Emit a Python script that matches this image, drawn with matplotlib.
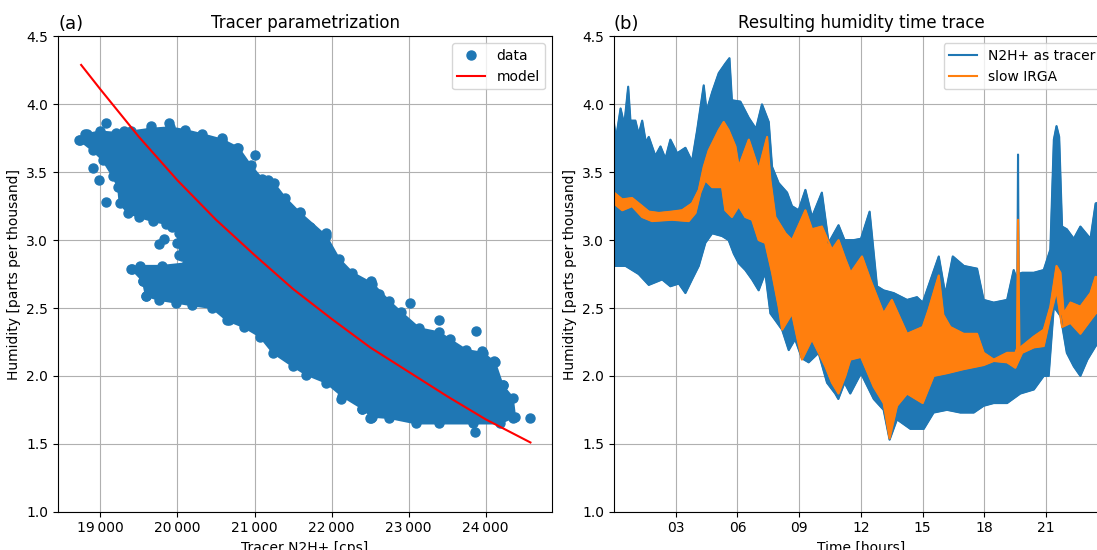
import matplotlib
matplotlib.use("Agg")
import matplotlib.pyplot as plt
import matplotlib.ticker as mticker
import numpy as np

# ---- panel (a): scatter cloud outline (cps, humidity)
cloud_x = [18720, 18820, 18990, 19200, 19400, 19650, 19900, 20100, 20320, 20580,
           20790, 20950, 21100, 21250, 21400, 21590, 21930, 22100, 22270, 22530,
           22750, 22900, 23140, 23400, 23530, 23750, 23960, 24120, 24220, 24350,
           24380, 24180, 23830, 23400, 23100, 22750, 22520, 22400, 22140, 21930,
           21670, 21500, 21240, 21070, 20860, 20640, 20450, 20190, 19980, 19760,
           19590, 19550, 19400, 19510, 19800, 20130, 20060, 20000, 20020, 19930,
           19850, 19680, 19500, 19360, 19250, 19230, 19160, 19030, 18900]
cloud_y = [3.74, 3.78, 3.80, 3.79, 3.80, 3.82, 3.83, 3.81, 3.78, 3.74,
           3.68, 3.55, 3.45, 3.42, 3.31, 3.20, 3.03, 2.86, 2.76, 2.68,
           2.55, 2.47, 2.35, 2.32, 2.27, 2.19, 2.17, 2.10, 1.93, 1.84,
           1.70, 1.65, 1.65, 1.65, 1.65, 1.69, 1.70, 1.76, 1.85, 1.95,
           2.01, 2.07, 2.17, 2.29, 2.36, 2.41, 2.50, 2.52, 2.54, 2.56,
           2.59, 2.70, 2.79, 2.81, 2.81, 2.83, 2.88, 2.98, 3.05, 3.10,
           3.12, 3.14, 3.17, 3.20, 3.27, 3.39, 3.47, 3.59, 3.66]

# isolated points around the cloud
pts_x = [18740, 18800, 19077, 19657, 19893, 18906, 18983, 19069, 21009, 20773,
         19764, 19828, 20021, 19412, 19549, 19592, 20579, 21180, 21927, 21585,
         21714, 22611, 22517, 20667, 22120, 22397, 22504, 23013, 23390, 23870,
         23957, 24104, 24571, 23857, 22515, 22407, 24074, 24355, 24225, 19300]
pts_y = [3.74, 3.78, 3.86, 3.84, 3.86, 3.53, 3.44, 3.28, 3.63, 3.68,
         2.97, 3.01, 2.89, 2.79, 2.70, 2.59, 3.75, 3.44, 3.05, 3.21,
         3.10, 2.60, 2.70, 2.41, 1.83, 1.76, 1.69, 2.54, 2.41, 2.33,
         2.18, 2.11, 1.69, 1.59, 1.69, 1.78, 2.01, 1.69, 1.93, 3.80]

model_x = [18750, 19000, 19500, 20000, 20500, 21000, 21500, 22000, 22500,
           23000, 23500, 24000, 24580]
model_y = [4.29, 4.11, 3.76, 3.44, 3.15, 2.89, 2.64, 2.42, 2.21,
           2.03, 1.85, 1.68, 1.51]

# ---- panel (b): envelopes of the traces (hours, humidity)
blue_up_t = [0.0, 0.1, 0.32, 0.5, 0.69, 0.8, 1.04, 1.2, 1.37, 1.55, 1.69, 2.01,
             2.26, 2.5, 2.74, 3.07, 3.47, 3.79, 4.04, 4.36, 4.5, 4.77, 5.09,
             5.41, 5.61, 5.73, 6.14, 6.55, 6.9, 7.19, 7.52, 7.68, 8.0, 8.41,
             8.65, 8.97, 9.3, 9.62, 10.1, 10.43, 10.91, 11.2, 11.64, 12.0,
             12.42, 12.78, 13.1, 13.59, 14.24, 14.72, 15.0, 15.78, 16.1, 16.46,
             17.0, 17.64, 17.96, 18.45, 19.1, 19.42, 19.6, 19.63, 19.66, 19.83,
             20.4, 20.88, 21.2, 21.37, 21.5, 21.63, 21.77, 22.0, 22.34, 22.66,
             23.15, 23.4, 24.0]
blue_up_y = [3.86, 3.75, 3.97, 3.85, 4.13, 3.88, 3.88, 3.78, 3.88, 3.72, 3.76, 3.62,
             3.69, 3.60, 3.74, 3.64, 3.68, 3.58, 3.81, 4.14, 3.95, 4.09, 4.23,
             4.30, 4.34, 4.03, 4.02, 3.90, 3.82, 4.00, 3.87, 3.54, 3.42, 3.35,
             3.25, 3.22, 3.37, 3.17, 3.35, 2.98, 3.11, 3.00, 3.00, 3.01,
             3.21, 2.66, 2.63, 2.61, 2.56, 2.58, 2.54, 2.88, 2.60, 2.88,
             2.81, 2.79, 2.56, 2.54, 2.56, 2.78, 2.70, 3.63, 2.75, 2.76,
             2.76, 2.78, 2.93, 3.74, 3.84, 3.76, 3.10, 3.08, 3.01, 3.10,
             3.01, 3.27, 3.30]
blue_lo_t = [0.0, 0.56, 1.2, 1.69, 2.34, 2.74, 3.15, 3.47, 3.79, 4.12, 4.44, 4.77,
             5.25, 5.57, 5.82, 6.06, 6.38, 6.71, 7.03, 7.35, 7.6, 7.84, 8.17,
             8.49, 8.8, 9.13, 9.46, 9.94, 10.35, 10.75, 10.9, 11.2, 11.48, 12.0,
             12.62, 13.1, 13.39, 13.75, 14.4, 15.05, 15.53, 16.18, 16.83, 17.48,
             17.96, 18.45, 19.1, 19.74, 20.4, 20.88, 21.12, 21.37, 21.7, 22.0,
             22.34, 22.66, 23.0, 23.4, 24.0]
blue_lo_y = [2.81, 2.81, 2.75, 2.67, 2.71, 2.66, 2.68, 2.61, 2.71, 2.81, 2.98, 3.05,
             3.03, 3.00, 2.90, 2.83, 2.78, 2.71, 2.63, 2.76, 2.46, 2.41, 2.34,
             2.19, 2.27, 2.13, 2.10, 2.17, 1.95, 1.87, 1.83, 1.95, 1.87, 2.02,
             1.83, 1.75, 1.53, 1.68, 1.61, 1.61, 1.73, 1.75, 1.73, 1.73,
             1.78, 1.80, 1.80, 1.87, 1.90, 2.00, 2.00, 2.51, 2.44, 2.17,
             2.07, 2.00, 2.12, 2.22, 2.30]

orng_up_t = [0.0, 0.4, 0.88, 1.37, 1.69, 2.18, 2.82, 3.31, 3.79, 4.12, 4.36, 4.6,
             5.09, 5.33, 5.57, 5.9, 6.06, 6.55, 7.03, 7.44, 7.6, 7.84, 8.33,
             8.65, 9.3, 9.62, 10.1, 10.59, 10.91, 11.24, 11.5, 12.05, 12.45,
             13.1, 13.5, 14.24, 15.0, 15.29, 15.78, 16.0, 16.34, 16.99, 17.64,
             17.96, 18.45, 19.1, 19.5, 19.58, 19.63, 19.7, 19.83, 20.4, 20.88,
             21.2, 21.5, 21.69, 21.85, 22.18, 22.66, 23.15, 23.4, 24.0]
orng_up_y = [3.35, 3.30, 3.31, 3.25, 3.21, 3.20, 3.21, 3.22, 3.27, 3.37, 3.54, 3.66,
             3.81, 3.87, 3.81, 3.69, 3.54, 3.74, 3.52, 3.76, 3.44, 3.17, 3.05,
             3.00, 3.22, 3.08, 3.10, 2.93, 3.00, 2.86, 2.76, 2.88, 2.71,
             2.46, 2.56, 2.31, 2.36, 2.49, 2.74, 2.45, 2.36, 2.31, 2.31,
             2.17, 2.12, 2.17, 2.17, 2.20, 3.15, 2.20, 2.22, 2.29, 2.34,
             2.51, 2.81, 2.76, 2.46, 2.54, 2.51, 2.61, 2.73, 2.70]
orng_lo_t = [0.0, 0.4, 0.88, 1.37, 1.85, 2.82, 3.63, 3.96, 4.2, 4.44, 4.77, 5.25,
             5.41, 5.73, 6.06, 6.38, 6.71, 7.03, 7.35, 7.68, 8.0, 8.17, 8.65,
             9.13, 9.62, 10.27, 10.59, 10.91, 11.24, 11.48, 12.0, 12.62, 13.1,
             13.39, 13.75, 14.24, 15.0, 15.53, 16.18, 16.99, 17.64, 17.96, 18.45,
             19.1, 19.5, 19.83, 20.4, 20.88, 21.2, 21.5, 21.77, 22.18, 22.66,
             23.15, 23.4, 24.0]
orng_lo_y = [3.27, 3.22, 3.25, 3.17, 3.14, 3.15, 3.14, 3.20, 3.35, 3.44, 3.39, 3.39,
             3.22, 3.17, 3.25, 3.17, 3.15, 3.00, 2.98, 2.76, 2.51, 2.34, 2.46,
             2.12, 2.27, 2.07, 1.95, 1.87, 2.00, 2.12, 2.14, 1.92, 1.80,
             1.54, 1.78, 1.87, 1.80, 2.00, 2.02, 2.05, 2.07, 2.08, 2.11,
             2.10, 2.06, 2.17, 2.21, 2.22, 2.44, 2.63, 2.36, 2.39, 2.31,
             2.41, 2.46, 2.50]

hour_ticks = [3, 6, 9, 12, 15, 18, 21]
hour_labels = ['03', '06', '09', '12', '15', '18', '21']

blue = '#1f77b4'
orange = '#ff7f0e'

fig = plt.figure(figsize=(10.97, 5.5), dpi=100)
ax1 = fig.add_axes([0.0529, 0.0696, 0.4503, 0.8642])
ax2 = fig.add_axes([0.5597, 0.0696, 0.4503, 0.8642])

# (a) tracer parametrization
ax1.set_axisbelow(True)
ax1.fill(cloud_x, cloud_y, color=blue, lw=1.5)
# the dense cloud edge is made of single dots too
ax1.plot(cloud_x, cloud_y, 'o', color=blue, ms=6.5)
ax1.plot(pts_x, pts_y, 'o', color=blue, ms=6.5, label='data')
ax1.plot(model_x, model_y, color='red', lw=1.5, label='model')
ax1.set_xlim(18450, 24860)
ax1.set_ylim(1.0, 4.5)
ax1.xaxis.set_major_locator(mticker.MultipleLocator(1000))
ax1.xaxis.set_major_formatter(mticker.FuncFormatter(
    lambda v, p: '{:,.0f}'.format(v).replace(',', '\u2009')))
ax1.grid(True, color='#b0b0b0', lw=0.8)
ax1.legend(loc='upper right', numpoints=1)
ax1.set_title('Tracer parametrization', fontsize=12)
ax1.set_xlabel('Tracer N2H+ [cps]')
ax1.set_ylabel('Humidity [parts per thousand]')
ax1.text(0.0, 1.015, '(a)', transform=ax1.transAxes, fontsize=13)

# (b) humidity time trace
ax2.set_axisbelow(True)
ax2.fill(blue_up_t + blue_lo_t[::-1], blue_up_y + blue_lo_y[::-1],
         color=blue, lw=1)
ax2.plot(blue_up_t, blue_up_y, color=blue, lw=1.5, label='N2H+ as tracer')
ax2.plot(blue_lo_t, blue_lo_y, color=blue, lw=1.5)
ax2.fill(orng_up_t + orng_lo_t[::-1], orng_up_y + orng_lo_y[::-1],
         color=orange, lw=1)
ax2.plot(orng_up_t, orng_up_y, color=orange, lw=1.5, label='slow IRGA')
ax2.plot(orng_lo_t, orng_lo_y, color=orange, lw=1.5)
ax2.set_xlim(0, 24)
ax2.set_ylim(1.0, 4.5)
ax2.set_xticks(hour_ticks)
ax2.set_xticklabels(hour_labels)
ax2.grid(True, color='#b0b0b0', lw=0.8)
ax2.legend(loc='upper right')
ax2.set_title('Resulting humidity time trace', fontsize=12)
ax2.set_xlabel('Time [hours]')
ax2.set_ylabel('Humidity [parts per thousand]')
ax2.text(0.0, 1.015, '(b)', transform=ax2.transAxes, fontsize=13)

fig.savefig('out.png', dpi=100)
